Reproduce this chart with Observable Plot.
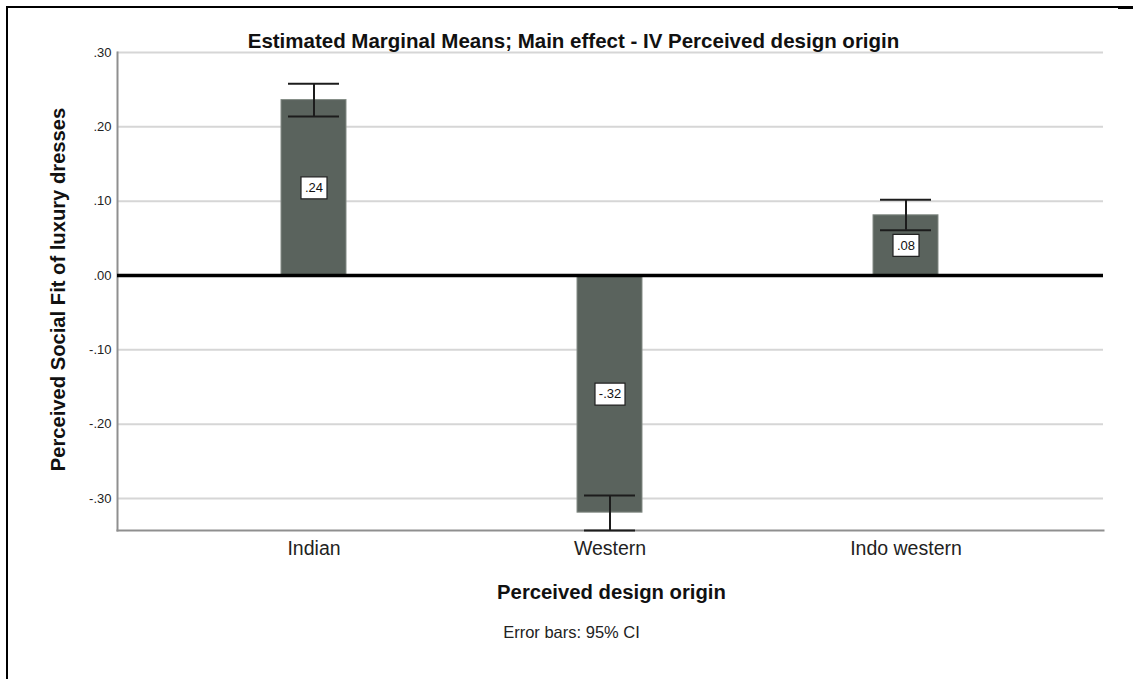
<!DOCTYPE html>
<html>
<head>
<meta charset="utf-8">
<script src="https://cdn.jsdelivr.net/npm/d3@7"></script>
<script src="https://cdn.jsdelivr.net/npm/@observablehq/plot@0.6"></script>
<style>
  html, body { margin: 0; padding: 0; background: #fff; }
  #wrap { position: relative; width: 1133px; height: 679px; overflow: hidden; }
  #borderBox { position: absolute; left: 6px; top: 6px; width: 1112px; height: 680px;
    border-left: 2px solid #000; border-top: 2px solid #000; box-sizing: border-box; pointer-events: none; }
  #cornerSeg { position: absolute; left: 1118px; top: 6px; width: 15px; height: 3px; background: #000; }
</style>
</head>
<body>
<div id="wrap">
  <div id="chart"></div>
  <div id="borderBox"></div>
  <div id="cornerSeg"></div>
</div>
<script>
const categories = ["Indian", "Western", "Indo western"];
const means = [0.236, -0.319, 0.081];
const ciLow = [0.214, -0.343, 0.061];
const ciHigh = [0.258, -0.296, 0.102];
const valueLabels = [".24", "-.32", ".08"];
const yTicks = [-0.3, -0.2, -0.1, 0, 0.1, 0.2, 0.3];
const yDomain = [-0.343, 0.30];
const titleText = "Estimated Marginal Means; Main effect - IV Perceived design origin";
const yTitle = "Perceived Social Fit of luxury dresses";
const xTitle = "Perceived design origin";
const captionText = "Error bars: 95% CI";

const rows = categories.map((c, i) => ({cat: c, mean: means[i], low: ciLow[i], high: ciHigh[i], label: valueLabels[i]}));

const fmt = d => {
  const s = Math.abs(d).toFixed(2).replace(/^0\./, ".");
  return (d < -1e-9 ? "-" : "") + s;
};

const boxSymbol = {
  draw(ctx, size) {
    const r = Math.sqrt(size / Math.PI);
    ctx.moveTo(-r, -11);
    ctx.lineTo(r, -11);
    ctx.lineTo(r, 11);
    ctx.lineTo(-r, 11);
    ctx.closePath();
  }
};

const font = "'Liberation Sans', Arial, sans-serif";

const chart = Plot.plot({
  width: 1133,
  height: 679,
  marginLeft: 117,
  marginRight: 30,
  marginTop: 52,
  marginBottom: 149,
  style: {fontFamily: font, background: "transparent", color: "#222"},
  x: {domain: categories, paddingInner: 0.78, paddingOuter: 0.553, label: null},
  y: {domain: yDomain, ticks: yTicks, label: null},
  r: {type: "identity"},
  marks: [
    Plot.gridY(yTicks, {stroke: "#d6d6d6", strokeOpacity: 1, strokeWidth: 2}),
    Plot.frame({anchor: "left", stroke: "#8f8f8f", strokeWidth: 2}),
    Plot.frame({anchor: "bottom", stroke: "#8f8f8f", strokeWidth: 2}),
    Plot.barY(rows, {x: "cat", y: "mean", fill: "#5a635d", stroke: "#838b85", strokeWidth: 1}),
    Plot.ruleY([0], {stroke: "#000", strokeWidth: 3.5}),
    Plot.ruleX(rows, {x: "cat", y1: "low", y2: "high", stroke: "#1c1c1c", strokeWidth: 2}),
    Plot.tickY(rows, {x: "cat", y: "low", inset: 7, stroke: "#1c1c1c", strokeWidth: 2}),
    Plot.tickY(rows, {x: "cat", y: "high", inset: 7, stroke: "#1c1c1c", strokeWidth: 2}),
    Plot.dot(rows, {x: "cat", y: d => d.mean / 2, symbol: boxSymbol, r: d => 7 + 2 * d.label.length,
      fill: "#fff", stroke: "#222", strokeWidth: 1.2}),
    Plot.text(rows, {x: "cat", y: d => d.mean / 2, text: "label", fontSize: 13, fill: "#111"}),
    Plot.axisY({ticks: yTicks, tickFormat: fmt, tickSize: 0, tickPadding: 6, fontSize: 13, label: null, fill: "#222"}),
    Plot.axisX({tickSize: 0, tickPadding: 11, fontSize: 19.5, label: null, fill: "#222"}),
    Plot.text([titleText], {frameAnchor: "top", dx: -37, dy: -19, fontSize: 20.5, fontWeight: "bold", fill: "#111"}),
    Plot.text([yTitle], {frameAnchor: "left", textAnchor: "middle", rotate: -90, dx: -59, dy: -2, fontSize: 20.2, fontWeight: "bold", fill: "#111"}),
    Plot.text([xTitle], {frameAnchor: "bottom", dx: 1, dy: 68, fontSize: 20.3, fontWeight: "bold", fill: "#111"}),
    Plot.text([captionText], {frameAnchor: "bottom", dx: -39, dy: 107, fontSize: 16.5, fill: "#222"})
  ]
});

document.getElementById("chart").appendChild(chart);
</script>
</body>
</html>
